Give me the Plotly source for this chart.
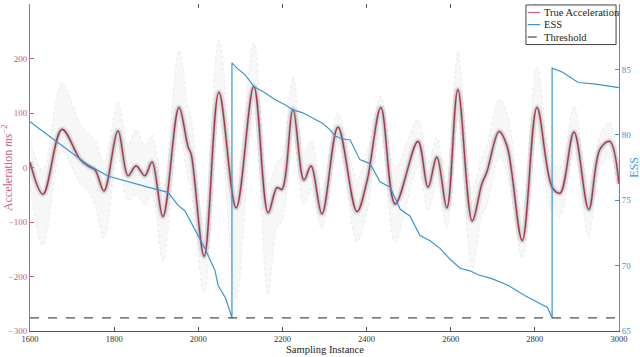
import plotly.graph_objects as go

# ---------------- data ----------------
sample = [1600, 1631, 1676, 1719, 1740, 1755, 1776, 1809, 1833, 1852, 1873, 1890, 1916,
          1954, 1976, 1983, 2014, 2049, 2090, 2132, 2166, 2187, 2199, 2225, 2251, 2268,
          2294, 2332, 2377, 2401, 2434, 2468, 2522, 2546, 2567, 2591, 2617, 2651, 2674,
          2686, 2715, 2734, 2770, 2805, 2841, 2860, 2893, 2928, 2955, 2978, 3000]
acc_true = [10, -49, 70, 15, 2, -5, -43, 67, -15, 3, -15, 10, -90,
            110, 37, 25, -163, 138, -74, 149, -83, -37, -40, 107, -23, 3,
            -85, 74, -81, -25, 110, -67, 48, -36, 19, -74, 143, -98, -30,
            -8, 66, 39, -134, 110, -36, -47, 65, -77, 34, 48, -30]
cloud_hi = [50, -5, 155, 80, 60, 50, 10, 119, 40, 70, 40, 60, -40,
            215, 110, 90, -110, 234, -20, 229, -30, 10, 20, 167, 30, 50,
            -40, 100, -20, 30, 131, 0, 88, 10, 55, -30, 212, -40, 20,
            40, 125, 100, -80, 185, 10, 0, 112, -30, 60, 83, -10]
cloud_lo = [-40, -143, 30, -30, -45, -70, -130, 20, -60, -50, -70, -50, -172,
            60, -20, -40, -230, 90, -240, 100, -234, -110, -100, 60, -70, -40,
            -112, 40, -136, -80, 60, -137, 0, -80, -30, -110, 90, -185, -90,
            -70, 20, -10, -167, 60, -80, -90, 30, -125, 0, 20, -60]

ess_sample = [1600, 1719, 1738, 1785, 1833, 1880, 1928, 1952, 1968, 1992, 2016, 2040, 2047,
              2065, 2080, 2080, 2092, 2111, 2132, 2159, 2182, 2206, 2225, 2247, 2270, 2294,
              2313, 2325, 2342, 2361, 2384, 2408, 2432, 2456, 2480, 2503, 2527, 2551, 2575,
              2598, 2622, 2646, 2665, 2698, 2736, 2777, 2812, 2830, 2841, 2841, 2865, 2903,
              2940, 3000]
ess = [81.0, 78.1, 77.7, 76.85, 76.4, 76.0, 75.6, 74.6, 74.2, 72.8, 71.3, 69.6, 68.5,
       67.5, 66.0, 85.5, 85.1, 84.6, 83.7, 83.2, 82.7, 82.3, 81.9, 81.7, 81.3, 80.9,
       80.4, 79.9, 79.7, 79.6, 78.1, 77.8, 76.4, 76.0, 74.3, 73.8, 72.3, 71.9, 71.3,
       70.5, 69.8, 69.6, 69.3, 69.0, 68.5, 67.7, 67.1, 66.8, 66.0, 85.1, 84.8, 84.0,
       83.9, 83.6]
threshold = 66
x_range = [1600, 3000]
acc_ticks = [-300, -200, -100, 0, 100, 200, 300]
ess_ticks = [65, 70, 75, 80, 85, 90]
x_ticks = [1600, 1800, 2000, 2200, 2400, 2600, 2800, 3000]
top_ticks = [2000, 2200, 2400, 2600, 2800]
legend_labels = ["True Acceleration", "ESS", "Threshold"]

# ---------------- styling ----------------
FONT = "Liberation Serif"
RED = "#b02a48"
RED_AX = "#c8607c"
BLUE = "#3a94d6"
GRAY_AX = "#555555"

fig = go.Figure()

# particle cloud (envelope)
fig.add_trace(go.Scatter(x=sample, y=cloud_lo, mode="lines",
                         line=dict(color="rgba(170,170,170,0.35)", width=0.6, dash="dot", shape="spline", smoothing=1.0),
                         showlegend=False, hoverinfo="skip"))
fig.add_trace(go.Scatter(x=sample, y=cloud_hi, mode="lines", fill="tonexty",
                         fillcolor="rgba(150,150,150,0.08)",
                         line=dict(color="rgba(170,170,170,0.35)", width=0.6, dash="dot", shape="spline", smoothing=1.0),
                         showlegend=False, hoverinfo="skip"))
# dense particle core around the truth
fig.add_trace(go.Scatter(x=sample, y=acc_true, mode="lines",
                         line=dict(color="rgba(90,90,90,0.15)", width=6, shape="spline", smoothing=1.0),
                         showlegend=False, hoverinfo="skip"))
fig.add_trace(go.Scatter(x=sample, y=acc_true, mode="lines",
                         line=dict(color="rgba(40,40,40,0.3)", width=2.4, shape="spline", smoothing=1.0),
                         showlegend=False, hoverinfo="skip"))
# true acceleration
fig.add_trace(go.Scatter(x=sample, y=acc_true, mode="lines",
                         line=dict(color=RED, width=1.1, shape="spline", smoothing=1.0),
                         name=legend_labels[0], showlegend=False))
# ESS
fig.add_trace(go.Scatter(x=ess_sample, y=ess, mode="lines", yaxis="y2",
                         line=dict(color=BLUE, width=1.2),
                         name=legend_labels[1], showlegend=False))
# threshold
fig.add_trace(go.Scatter(x=x_range, y=[threshold, threshold], mode="lines", yaxis="y2",
                         line=dict(color="#222222", width=1, dash="dash"),
                         name=legend_labels[2], showlegend=False))
# dummy on the top axis so its ticks are drawn
fig.add_trace(go.Scatter(x=x_range, y=[None, None], xaxis="x2", showlegend=False, hoverinfo="skip"))

fig.update_layout(
    width=640, height=357,
    margin=dict(l=30, r=21, t=4, b=26),
    paper_bgcolor="white", plot_bgcolor="white",
    showlegend=False,
    xaxis=dict(range=x_range, tickvals=x_ticks, ticks="inside", ticklen=4, tickcolor=GRAY_AX,
               showline=True, linecolor=GRAY_AX, linewidth=1, showgrid=False, zeroline=False,
               tickfont=dict(family=FONT, size=8.5, color="#333333")),
    xaxis2=dict(range=x_range, overlaying="x", side="top", tickvals=top_ticks, ticks="inside",
                ticklen=4, tickcolor=GRAY_AX, showline=False, showgrid=False, zeroline=False,
                showticklabels=False),
    yaxis=dict(range=[-300, 300], tickvals=acc_ticks, ticks="inside", ticklen=4, tickcolor=RED_AX,
               showline=True, linecolor=RED_AX, linewidth=1, showgrid=False, zeroline=False,
               tickfont=dict(family=FONT, size=9, color=RED_AX)),
    yaxis2=dict(range=[65, 90], tickvals=ess_ticks, ticks="inside", ticklen=4, tickcolor=BLUE,
                overlaying="y", side="right", anchor="x",
                showline=True, linecolor=BLUE, linewidth=1, showgrid=False, zeroline=False,
                tickfont=dict(family=FONT, size=9, color=BLUE)),
)

# axis titles
fig.add_annotation(text="Sampling Instance", xref="paper", yref="paper", x=0.5, y=-0.056,
                   showarrow=False, font=dict(family=FONT, size=10.5, color="#222222"), yanchor="middle")
fig.add_annotation(text="Acceleration <i>ms</i><sup>−2</sup>", xref="paper", yref="paper",
                   x=-0.038, y=0.5, textangle=-90, showarrow=False,
                   font=dict(family=FONT, size=12, color=RED_AX), xanchor="center", yanchor="middle")
fig.add_annotation(text="ESS", xref="paper", yref="paper", x=1.024, y=0.5, textangle=-90,
                   showarrow=False, font=dict(family=FONT, size=12, color=BLUE),
                   xanchor="center", yanchor="middle")

# manual legend (top-right box)
bx0, bx1, by0, by1 = 0.842, 0.995, 0.876, 0.997
fig.add_shape(type="rect", xref="paper", yref="paper", x0=bx0, x1=bx1, y0=by0, y1=by1,
              line=dict(color="#444444", width=1), fillcolor="white", layer="above")
leg_styles = [dict(color=RED_AX, width=1.2), dict(color=BLUE, width=1.2),
              dict(color="#222222", width=1, dash="dash")]
leg_y = [0.974, 0.937, 0.899]
for lab, st, yy in zip(legend_labels, leg_styles, leg_y):
    fig.add_shape(type="line", xref="paper", yref="paper", x0=bx0 + 0.003, x1=bx0 + 0.024,
                  y0=yy, y1=yy, line=st, layer="above")
    fig.add_annotation(text=lab, xref="paper", yref="paper", x=bx0 + 0.027, y=yy,
                       xanchor="left", yanchor="middle", showarrow=False,
                       font=dict(family=FONT, size=10.5, color="#222222"))

fig.write_html("out.html", config={"displayModeBar": False},
               post_script="document.body.style.margin='0';document.body.style.overflow='hidden';")
